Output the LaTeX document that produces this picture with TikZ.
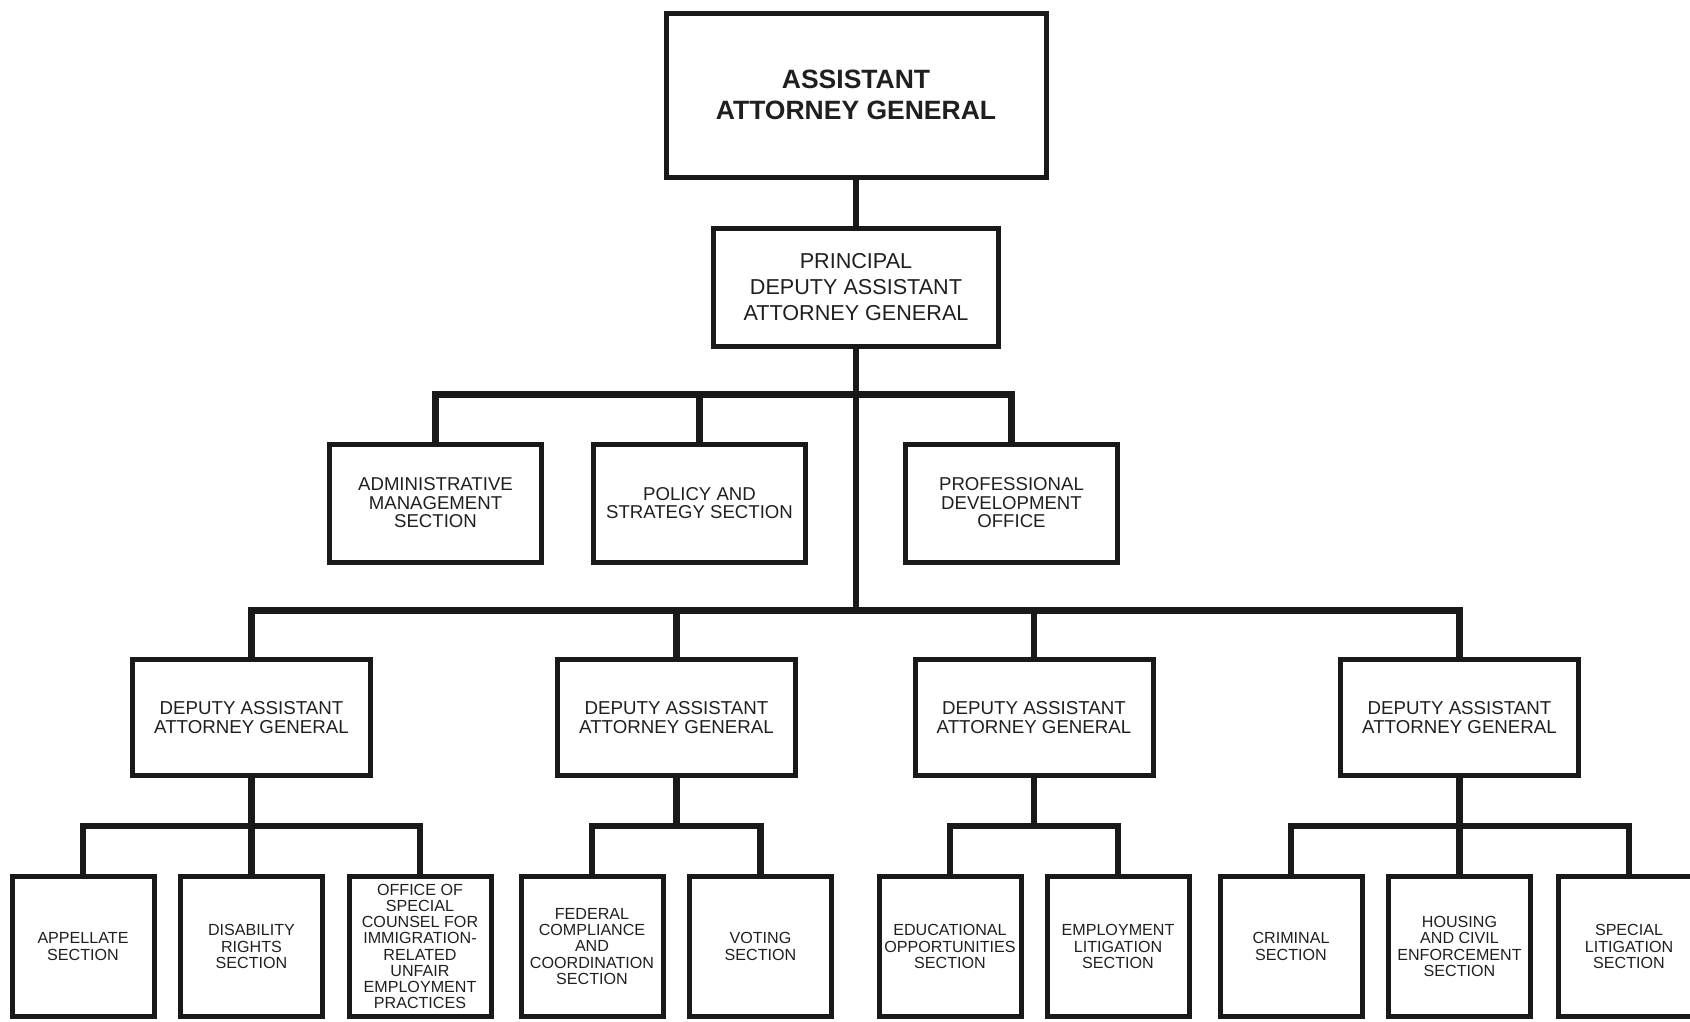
\documentclass[tikz,border=0pt]{standalone}
\usepackage{fontspec}
\setmainfont{Liberation Sans}
\begin{document}
\begin{tikzpicture}[x=1pt,y=-1pt,
  box/.style={draw=black!90, line width=5pt, inner sep=0pt, align=center, text=black!88},
  bigbox/.style={box, minimum width=380pt, minimum height=164pt, font=\fontsize{26.5}{31}\selectfont\bfseries},
  pbox/.style={box, minimum width=285pt, minimum height=118pt, font=\fontsize{21.6}{26}\selectfont},
  midbox/.style={box, minimum width=212pt, minimum height=118pt, font=\fontsize{18.6}{18.5}\selectfont},
  dbox/.style={box, minimum width=238pt, minimum height=116pt, font=\fontsize{18.7}{18.5}\selectfont},
  lowbox/.style={box, minimum width=142pt, minimum height=140pt, font=\fontsize{16.1}{16.2}\selectfont},
  conn/.style={draw=black!90, line width=6.5pt, line join=miter}
]
\useasboundingbox (0,0) rectangle (1690,1021);
\clip (0,0) rectangle (1690,1021);

\node[bigbox] (aag) at (856,95) {ASSISTANT\\ATTORNEY GENERAL};
\node[pbox] (pdaag) at (856,287) {PRINCIPAL\\DEPUTY ASSISTANT\\ATTORNEY GENERAL};

\node[midbox] (adm) at (435.5,503) {ADMINISTRATIVE\\MANAGEMENT\\SECTION};
\node[midbox] (pol) at (699.5,503) {POLICY AND\\STRATEGY SECTION};
\node[midbox] (prof) at (1011.5,503) {PROFESSIONAL\\DEVELOPMENT\\OFFICE};

\node[dbox] (d1) at (251.5,717.5) {DEPUTY ASSISTANT\\ATTORNEY GENERAL};
\node[dbox] (d2) at (676.5,717.5) {DEPUTY ASSISTANT\\ATTORNEY GENERAL};
\node[dbox] (d3) at (1034,717.5) {DEPUTY ASSISTANT\\ATTORNEY GENERAL};
\node[dbox] (d4) at (1459.5,717.5) {DEPUTY ASSISTANT\\ATTORNEY GENERAL};

\node[lowbox] (app) at (83,946.5) {APPELLATE\\SECTION};
\node[lowbox] (dis) at (251.5,946.5) {DISABILITY\\RIGHTS\\SECTION};
\node[lowbox] (osc) at (420,946.5) {OFFICE OF\\SPECIAL\\COUNSEL FOR\\IMMIGRATION-\\RELATED\\UNFAIR\\EMPLOYMENT\\PRACTICES};
\node[lowbox] (fed) at (592,946.5) {FEDERAL\\COMPLIANCE\\AND\\COORDINATION\\SECTION};
\node[lowbox] (vot) at (760.5,946.5) {VOTING\\SECTION};
\node[lowbox] (edu) at (950,946.5) {EDUCATIONAL\\OPPORTUNITIES\\SECTION};
\node[lowbox] (emp) at (1118,946.5) {EMPLOYMENT\\LITIGATION\\SECTION};
\node[lowbox] (cri) at (1291,946.5) {CRIMINAL\\SECTION};
\node[lowbox] (hou) at (1459.5,946.5) {HOUSING\\AND CIVIL\\ENFORCEMENT\\SECTION};
\node[lowbox] (spe) at (1629,946.5) {SPECIAL\\LITIGATION\\SECTION};

\draw[conn] (aag.south) -- (pdaag.north);
\foreach \t in {adm,pol,prof}
  \draw[conn] (pdaag.south) -- ++(0,46) -| (\t.north);
\foreach \t in {d1,d2,d3,d4}
  \draw[conn] (pdaag.south) -- ++(0,262) -| (\t.north);
\foreach \t in {app,dis,osc}
  \draw[conn] (d1.south) -- ++(0,48) -| (\t.north);
\foreach \t in {fed,vot}
  \draw[conn] (d2.south) -- ++(0,48) -| (\t.north);
\foreach \t in {edu,emp}
  \draw[conn] (d3.south) -- ++(0,48) -| (\t.north);
\foreach \t in {cri,hou,spe}
  \draw[conn] (d4.south) -- ++(0,48) -| (\t.north);
\end{tikzpicture}
\end{document}
